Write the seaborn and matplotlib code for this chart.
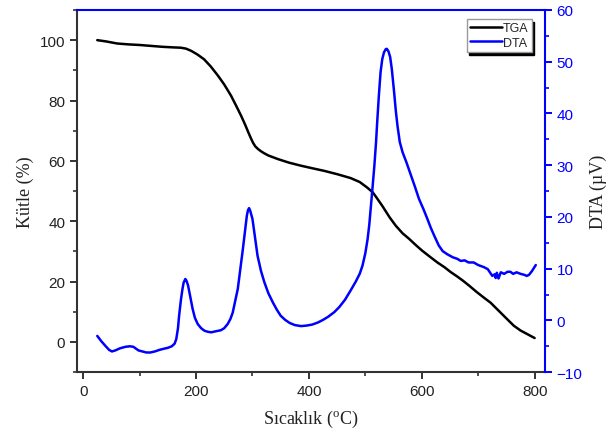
import numpy as np
import pandas as pd
import matplotlib
matplotlib.use("Agg")
import matplotlib.pyplot as plt
from matplotlib.ticker import MultipleLocator
import seaborn as sns

# Thermogravimetric (TGA) curve: temperature (°C) vs mass (%)
tga_temp = [25, 40, 60, 80, 100, 120, 140, 160, 173, 182, 191, 202, 214, 226,
            239, 250, 262, 271, 280, 287, 293, 297, 301, 305, 310, 315, 321,
            328, 345, 365, 386, 405, 427, 450, 474, 490, 503, 513, 520, 530,
            543, 554, 566, 578, 590, 601, 614, 628, 640, 651, 662, 673, 685,
            697, 710, 722, 736, 750, 763, 775, 788, 800]
tga_mass = [100.0, 99.6, 98.9, 98.6, 98.4, 98.1, 97.8, 97.6, 97.5, 97.2, 96.5,
            95.3, 93.7, 91.3, 88.2, 85.3, 81.6, 78.3, 74.9, 72.0, 69.3, 67.6,
            66.0, 64.8, 63.9, 63.2, 62.5, 61.8, 60.6, 59.4, 58.4, 57.6, 56.7,
            55.6, 54.3, 53.0, 51.2, 49.6, 47.8, 45.1, 41.3, 38.5, 36.0, 34.1,
            32.0, 30.2, 28.3, 26.3, 24.8, 23.2, 21.8, 20.3, 18.5, 16.6, 14.7,
            13.0, 10.4, 7.8, 5.4, 3.8, 2.5, 1.3]

# Differential thermal analysis (DTA) curve: temperature (°C) vs signal (µV)
dta_temp = [25, 32, 40, 46, 51, 57, 65, 75, 83, 89, 93, 98, 105, 112, 119,
            127, 135, 142, 150, 157, 162, 165, 168, 170, 173, 176, 178, 181,
            183, 186, 190, 194, 198, 203, 209, 215, 221, 227, 235, 244, 250,
            256, 261, 265, 269, 274, 278, 283, 287, 290, 292, 294, 296, 300,
            304, 309, 315, 321, 328, 336, 343, 350, 358, 366, 375, 386, 396,
            406, 416, 425, 434, 445, 454, 464, 474, 483, 490, 495, 500, 504,
            507, 510, 513, 516, 519, 521, 524, 527, 530, 533, 536, 538, 541,
            544, 547, 551, 554, 557, 561, 566, 573, 581, 588, 595, 603, 610,
            616, 622, 630, 637, 645, 655, 663, 669, 676, 683, 692, 700, 710,
            717, 722, 725, 729, 731, 733, 736, 740, 746, 752, 757, 762, 768,
            775, 782, 786, 790, 795, 802]
dta_signal = [-3.0, -4.0, -5.0, -5.7, -6.0, -5.8, -5.4, -5.1, -5.0, -5.1, -5.4,
              -5.8, -6.0, -6.2, -6.2, -6.0, -5.7, -5.5, -5.3, -5.0, -4.5, -3.6,
              -1.5, 0.9, 3.8, 6.1, 7.3, 8.0, 7.7, 6.7, 4.5, 2.2, 0.5, -0.7,
              -1.5, -2.0, -2.2, -2.3, -2.1, -1.9, -1.5, -0.7, 0.3, 1.5, 3.5,
              6.1, 9.5, 13.8, 17.5, 20.2, 21.3, 21.7, 21.2, 19.6, 16.5, 12.5,
              9.6, 7.4, 5.3, 3.5, 2.1, 0.9, 0.1, -0.5, -0.9, -1.1, -1.0, -0.8,
              -0.4, 0.1, 0.7, 1.6, 2.6, 4.0, 5.8, 7.5, 9.0, 10.6, 13.0, 15.7,
              18.5, 22.2, 26.0, 29.9, 34.5, 38.3, 43.5, 48.0, 50.5, 51.8, 52.4,
              52.5, 52.0, 50.9, 48.5, 44.1, 40.5, 37.6, 34.5, 32.5, 30.5, 28.0,
              25.8, 23.5, 21.5, 19.6, 17.9, 16.4, 14.5, 13.4, 12.8, 12.2, 11.9,
              11.5, 11.6, 11.2, 11.2, 10.7, 10.3, 9.9, 9.1, 8.6, 8.9, 8.2, 9.2,
              8.1, 9.3, 9.0, 9.4, 9.4, 9.0, 9.3, 9.0, 8.8, 8.6, 8.8, 9.5, 10.7]

tga = pd.DataFrame({"temp": tga_temp, "value": tga_mass})
dta = pd.DataFrame({"temp": dta_temp, "value": dta_signal})

sns.set_theme(style="ticks")
plt.rcParams["font.family"] = ["Liberation Sans", "DejaVu Sans"]
plt.rcParams["mathtext.fontset"] = "custom"
plt.rcParams["mathtext.rm"] = "Liberation Serif"

BLUE = "#0000FF"
DARK = "#333333"

fig = plt.figure(figsize=(6.06, 4.39), dpi=100)
ax = fig.add_axes([0.127, 0.150, 0.772, 0.825])
ax2 = ax.twinx()

sns.lineplot(data=tga, x="temp", y="value", ax=ax, color="black",
             linewidth=1.8, sort=False, label="TGA", legend=False)
sns.lineplot(data=dta, x="temp", y="value", ax=ax2, color=BLUE,
             linewidth=1.8, sort=False, label="DTA", legend=False)
for a in (ax, ax2):
    for ln in a.get_lines():
        ln.set_solid_joinstyle("round")
        ln.set_solid_capstyle("round")

ax.set_xlim(-11, 818)
ax.set_ylim(-10, 110)
ax2.set_ylim(-10, 60)

ax.xaxis.set_major_locator(MultipleLocator(200))
ax.xaxis.set_minor_locator(MultipleLocator(100))
ax.yaxis.set_major_locator(MultipleLocator(20))
ax.yaxis.set_minor_locator(MultipleLocator(10))
ax2.yaxis.set_major_locator(MultipleLocator(10))
ax2.yaxis.set_minor_locator(MultipleLocator(5))

for a in (ax, ax2):
    for s in a.spines.values():
        s.set_linewidth(1.5)
ax.spines["left"].set_color(DARK)
ax.spines["bottom"].set_color(DARK)
ax2.spines["right"].set_color(BLUE)
ax2.spines["top"].set_color(BLUE)
ax2.spines["left"].set_visible(False)
ax2.spines["bottom"].set_visible(False)
ax.spines["top"].set_visible(False)
ax.spines["right"].set_visible(False)

ax.tick_params(axis="both", which="major", direction="out", length=5,
               width=1.4, color=DARK, labelsize=11, labelcolor="#222222")
ax.tick_params(axis="both", which="minor", direction="out", length=3,
               width=1.2, color=DARK)
ax2.tick_params(axis="y", which="major", direction="out", length=5,
                width=1.4, color=BLUE, labelsize=11, labelcolor=BLUE)
ax2.tick_params(axis="y", which="minor", direction="out", length=3,
                width=1.2, color=BLUE)

serif = {"family": ["Liberation Serif", "DejaVu Serif"], "size": 13}
ax.set_xlabel("Sıcaklık ($^{\\mathrm{o}}$C)", fontdict=serif, color="#222222",
              labelpad=7)
ax.set_ylabel("Kütle (%)", fontdict=serif, color="#222222", labelpad=4)
ax2.set_ylabel("DTA (µV)", fontdict=serif, color="#222222", labelpad=5)

handles = ax.get_lines()[:1] + ax2.get_lines()[:1]
leg = ax2.legend(handles, ["TGA", "DTA"], loc="upper right",
                 bbox_to_anchor=(0.972, 0.975), fontsize=9, frameon=True,
                 fancybox=False, shadow={"color": "black", "alpha": 1.0},
                 edgecolor="#999999", framealpha=1, borderpad=0.25,
                 handlelength=2.6, handletextpad=0.05, labelspacing=0.2,
                 borderaxespad=0)
leg.get_frame().set_linewidth(1.0)

fig.savefig("out.png", dpi=100)
